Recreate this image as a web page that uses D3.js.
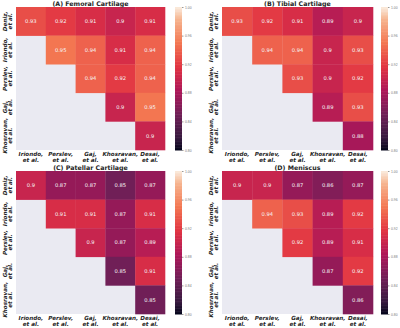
<!DOCTYPE html>
<html>
<head>
<meta charset="utf-8">
<script src="https://cdn.jsdelivr.net/npm/d3@7"></script>
<style>
  body { margin: 0; background: #fff; }
  svg { display: block; font-family: "DejaVu Sans", sans-serif; }
</style>
</head>
<body>
<div id="chart"></div>
<script>
const width = 400, height = 328;

// row / column names
const rowNames = ['Deniz,', 'Iriondo,', 'Perslev,', 'Gaj,', 'Khosravan,'];
const colNames = ['Iriondo,', 'Perslev,', 'Gaj,', 'Khosravan,', 'Desai,'];

// upper triangle values, null = masked
const femoral = [
    [0.93, 0.92, 0.91, 0.90, 0.91],
    [null, 0.95, 0.94, 0.91, 0.94],
    [null, null, 0.94, 0.92, 0.94],
    [null, null, null, 0.90, 0.95],
    [null, null, null, null, 0.90]
];
const tibial = [
    [0.93, 0.92, 0.91, 0.89, 0.90],
    [null, 0.94, 0.94, 0.90, 0.93],
    [null, null, 0.93, 0.90, 0.92],
    [null, null, null, 0.89, 0.93],
    [null, null, null, null, 0.88]
];
const patellar = [
    [0.90, 0.87, 0.87, 0.85, 0.87],
    [null, 0.91, 0.91, 0.87, 0.91],
    [null, null, 0.90, 0.87, 0.89],
    [null, null, null, 0.85, 0.91],
    [null, null, null, null, 0.85]
];
const meniscus = [
    [0.90, 0.90, 0.87, 0.86, 0.87],
    [null, 0.94, 0.93, 0.89, 0.92],
    [null, null, 0.92, 0.89, 0.91],
    [null, null, null, 0.87, 0.92],
    [null, null, null, null, 0.86]
];
const colorTicks = [0.80, 0.84, 0.88, 0.92, 0.96, 1.00];

// seaborn "rocket" approximated with a few stops
const rocket = d3.scaleLinear()
    .domain([0, 0.083, 0.25, 0.417, 0.583, 0.75, 0.917, 1])
    .range(['#03051a', '#35193e', '#701f57', '#ad1759', '#e13342', '#f37651', '#f6b48f', '#faebdd'])
    .interpolate(d3.interpolateRgb);
const colorScale = v => rocket((v - 0.8) / 0.2);

const panels = [
    { title: '(A) Femoral Cartilage', data: femoral, x0: 16, x1: 165, y0: 7, y1: 150, cb: 175 },
    { title: '(B) Tibial Cartilage', data: tibial, x0: 222, x1: 373, y0: 7, y1: 150, cb: 381 },
    { title: '(C) Patellar Cartilage', data: patellar, x0: 16, x1: 165, y0: 171, y1: 314, cb: 175 },
    { title: '(D) Meniscus', data: meniscus, x0: 222, x1: 373, y0: 171, y1: 314, cb: 381 }
];

const fmt = v => String(+v.toFixed(2));

const svg = d3.select('#chart').append('svg')
    .attr('width', width)
    .attr('height', height);

function drawPanel(p) {
    const g = svg.append('g');
    const xScale = d3.scaleBand().domain(d3.range(5)).range([p.x0, p.x1]);
    const yScale = d3.scaleBand().domain(d3.range(5)).range([p.y0, p.y1]);

    // axes background (masked cells)
    g.append('rect')
        .attr('x', p.x0).attr('y', p.y0)
        .attr('width', p.x1 - p.x0).attr('height', p.y1 - p.y0)
        .attr('fill', '#eaeaf2');

    const cells = [];
    p.data.forEach((row, i) => row.forEach((v, j) => {
        if (v !== null) cells.push({ i, j, v });
    }));

    g.selectAll('.cell').data(cells).enter().append('rect')
        .attr('class', 'cell')
        .attr('x', d => xScale(d.j))
        .attr('y', d => yScale(d.i))
        .attr('width', xScale.bandwidth() + 0.3)
        .attr('height', yScale.bandwidth() + 0.3)
        .attr('fill', d => colorScale(d.v));

    g.selectAll('.annot').data(cells).enter().append('text')
        .attr('class', 'annot')
        .attr('x', d => xScale(d.j) + xScale.bandwidth() / 2)
        .attr('y', d => yScale(d.i) + yScale.bandwidth() / 2)
        .attr('dy', '0.35em')
        .attr('text-anchor', 'middle')
        .attr('font-size', 5.2)
        .attr('fill', '#f5f5f5')
        .text(d => fmt(d.v));

    // title
    g.append('text')
        .attr('x', (p.x0 + p.x1) / 2)
        .attr('y', p.y0 - 1.5)
        .attr('text-anchor', 'middle')
        .attr('font-size', 6.3)
        .attr('font-weight', 'bold')
        .attr('fill', '#262626')
        .text(p.title);

    // column labels
    colNames.forEach((name, j) => {
        const t = g.append('text')
            .attr('x', xScale(j) + xScale.bandwidth() / 2)
            .attr('y', p.y1 + 6)
            .attr('text-anchor', 'middle')
            .attr('font-size', 5.6)
            .attr('font-weight', 'bold')
            .attr('font-style', 'italic')
            .attr('fill', '#262626');
        t.append('tspan').attr('x', xScale(j) + xScale.bandwidth() / 2).text(name);
        t.append('tspan').attr('x', xScale(j) + xScale.bandwidth() / 2).attr('dy', 5.8).text('et al.');
    });

    // row labels (rotated)
    rowNames.forEach((name, i) => {
        const cy = yScale(i) + yScale.bandwidth() / 2;
        const lx = p.x0 - 9.5;
        const t = g.append('text')
            .attr('transform', 'translate(' + lx + ',' + cy + ') rotate(-90)')
            .attr('text-anchor', 'middle')
            .attr('font-size', 5.6)
            .attr('font-weight', 'bold')
            .attr('font-style', 'italic')
            .attr('fill', '#262626');
        t.append('tspan').attr('x', 0).attr('y', 0).text(name);
        t.append('tspan').attr('x', 0).attr('dy', 5.8).text('et al.');
    });

    // colorbar
    const cbW = 7;
    const cbScale = d3.scaleLinear().domain([0.8, 1.0]).range([p.y1, p.y0]);
    const steps = d3.range(0, 100);
    g.selectAll('.cbstep').data(steps).enter().append('rect')
        .attr('class', 'cbstep')
        .attr('x', p.cb)
        .attr('y', d => cbScale(0.8 + (d + 1) * 0.002))
        .attr('width', cbW)
        .attr('height', d => cbScale(0.8 + d * 0.002) - cbScale(0.8 + (d + 1) * 0.002) + 0.5)
        .attr('fill', d => colorScale(0.8 + (d + 0.5) * 0.002));

    const axis = g.append('g')
        .attr('transform', 'translate(' + (p.cb + cbW) + ',0)')
        .call(d3.axisRight(cbScale).tickValues(colorTicks).tickFormat(d3.format('.2f')).tickSize(1.5).tickPadding(1.5));
    axis.select('.domain').remove();
    axis.selectAll('line').attr('stroke', '#999');
    axis.selectAll('text').attr('font-size', 3.4).attr('fill', '#777');
}

panels.forEach(drawPanel);
</script>
</body>
</html>
